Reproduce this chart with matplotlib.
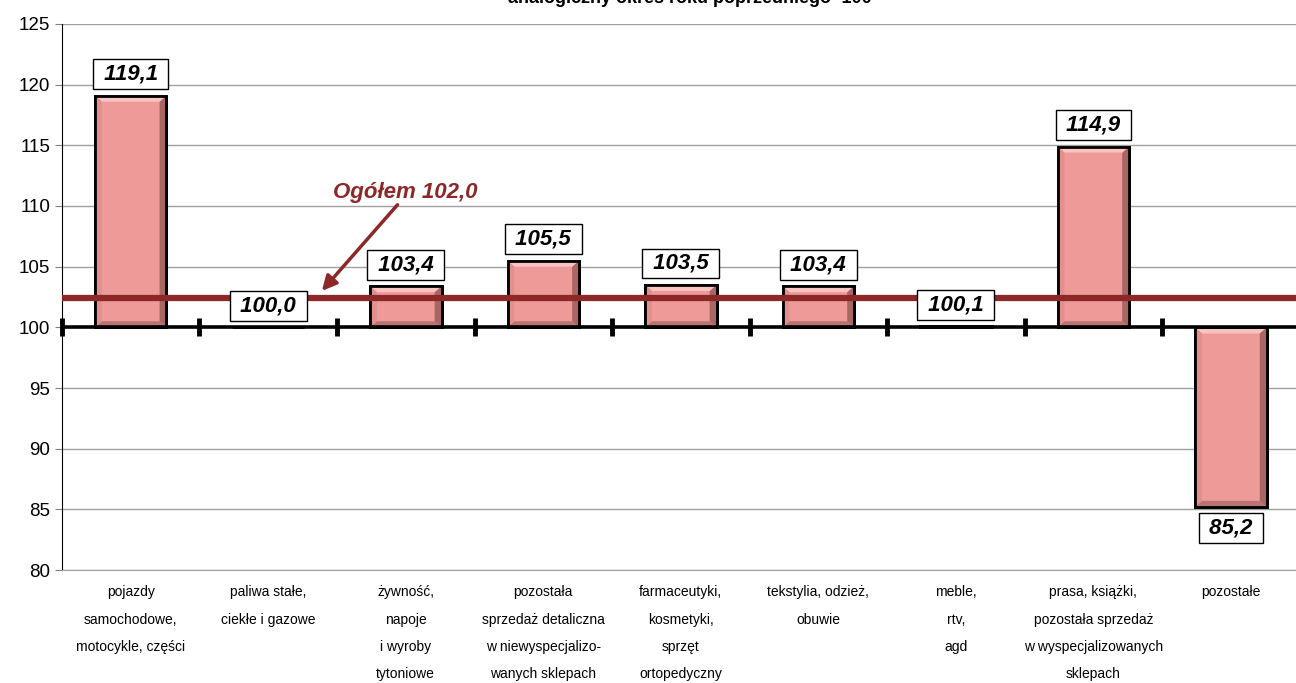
import matplotlib.pyplot as plt
from matplotlib.patches import Polygon

plt.rcParams['font.family'] = ['Liberation Sans', 'DejaVu Sans']

# data
categories = [
    'pojazdy\nsamochodowe,\nmotocykle, części',
    'paliwa stałe,\nciekłe i gazowe',
    'żywność,\nnapoje\ni wyroby\ntytoniowe',
    'pozostała\nsprzedaż detaliczna\nw niewyspecjalizo-\nwanych sklepach',
    'farmaceutyki,\nkosmetyki,\nsprzęt\nortopedyczny',
    'tekstylia, odzież,\nobuwie',
    'meble,\nrtv,\nagd',
    'prasa, książki,\npozostała sprzedaż\nw wyspecjalizowanych\nsklepach',
    'pozostałe',
]
values = [119.1, 100.0, 103.4, 105.5, 103.5, 103.4, 100.1, 114.9, 85.2]
total = 102.0
total_line = 102.4   # where the line is drawn in the original
base = 100

bar_color = '#ee9a98'
line_color = '#8c2828'

fig = plt.figure(figsize=(12.96, 6.83), dpi=100)
ax = fig.add_axes([0.0478, 0.1654, 0.955, 0.7995])

x = list(range(len(categories)))
heights = [v - base for v in values]
bars = ax.bar(x, heights, bottom=base, width=0.52, color=bar_color,
              edgecolor='black', linewidth=2, zorder=3)

# simple bevel look on the bars
bx, by = 0.05, 0.5
for b in bars:
    x0, w = b.get_x(), b.get_width()
    y0, y1 = sorted([b.get_y(), b.get_y() + b.get_height()])
    if y1 - y0 < 2 * by:
        continue
    x1 = x0 + w
    ax.add_patch(Polygon([(x1, y0), (x1, y1), (x1 - bx, y1 - by), (x1 - bx, y0 + by)],
                         closed=True, fc='#a86664', ec='none', zorder=3.1))
    ax.add_patch(Polygon([(x0, y0), (x1, y0), (x1 - bx, y0 + by), (x0 + bx, y0 + by)],
                         closed=True, fc='#b87472', ec='none', zorder=3.1))
    ax.add_patch(Polygon([(x0, y1), (x1, y1), (x1 - bx, y1 - by), (x0 + bx, y1 - by)],
                         closed=True, fc='#f8c4c2', ec='none', zorder=3.1))
    ax.add_patch(Polygon([(x0, y0), (x0, y1), (x0 + bx, y1 - by), (x0 + bx, y0 + by)],
                         closed=True, fc='#e2908e', ec='none', zorder=3.1))
    ax.add_patch(plt.Rectangle((x0, y0), w, y1 - y0, fc='none', ec='black',
                               lw=2, zorder=3.2))

# value labels in boxes
for xi, v in zip(x, values):
    if v >= base:
        y, va = v + 0.9, 'bottom'
    else:
        y, va = v - 0.9, 'top'
    ax.text(xi, y, ' ' + f'{v:.1f}'.replace('.', ',') + ' ', ha='center', va=va,
            fontsize=16, fontweight='bold', fontstyle='italic', zorder=5,
            bbox=dict(boxstyle='square,pad=0.2', fc='white', ec='black', lw=1))

# baseline at 100 with category separators
ax.axhline(base, color='black', lw=2.6, zorder=4)
ax.plot([xi - 0.5 for xi in x], [base] * len(x), ls='none', marker='|',
        markersize=13, mew=3.5, color='black', zorder=4, clip_on=False)

# overall line
ax.axhline(total_line, color=line_color, lw=4.5, zorder=4)
ax.text(2.0, 111.15, f'Ogółem {total:.1f}'.replace('.', ','), ha='center', va='center',
        fontsize=16, fontweight='bold', fontstyle='italic', color=line_color, zorder=6)
ax.annotate('', xy=(1.39, 103.0), xytext=(1.94, 110.1),
            arrowprops=dict(arrowstyle='-|>', color=line_color, lw=2.5,
                            mutation_scale=22, shrinkA=0, shrinkB=0),
            zorder=6)

ax.set_xlim(-0.5, len(categories) - 0.5)
ax.set_ylim(80, 125)
ax.set_yticks(range(80, 126, 5))
ax.tick_params(axis='y', labelsize=13.5, length=5, color='#808080')
ax.set_xticks(x)
ax.set_xticklabels(categories, fontsize=10, linespacing=2.2, va='top')
ax.tick_params(axis='x', length=0, pad=11)
ax.grid(axis='y', color='#a0a0a0', lw=1, zorder=0)
ax.set_axisbelow(True)
for s in ['top', 'right']:
    ax.spines[s].set_visible(False)
ax.spines['bottom'].set_color('#a0a0a0')
ax.spines['left'].set_color('black')

fig.text(0.532, 1 - 3 / 683, 'analogiczny okres roku poprzedniego=100',
         ha='center', va='baseline', fontsize=13, fontweight='bold')

fig.savefig('out.png', dpi=100)
